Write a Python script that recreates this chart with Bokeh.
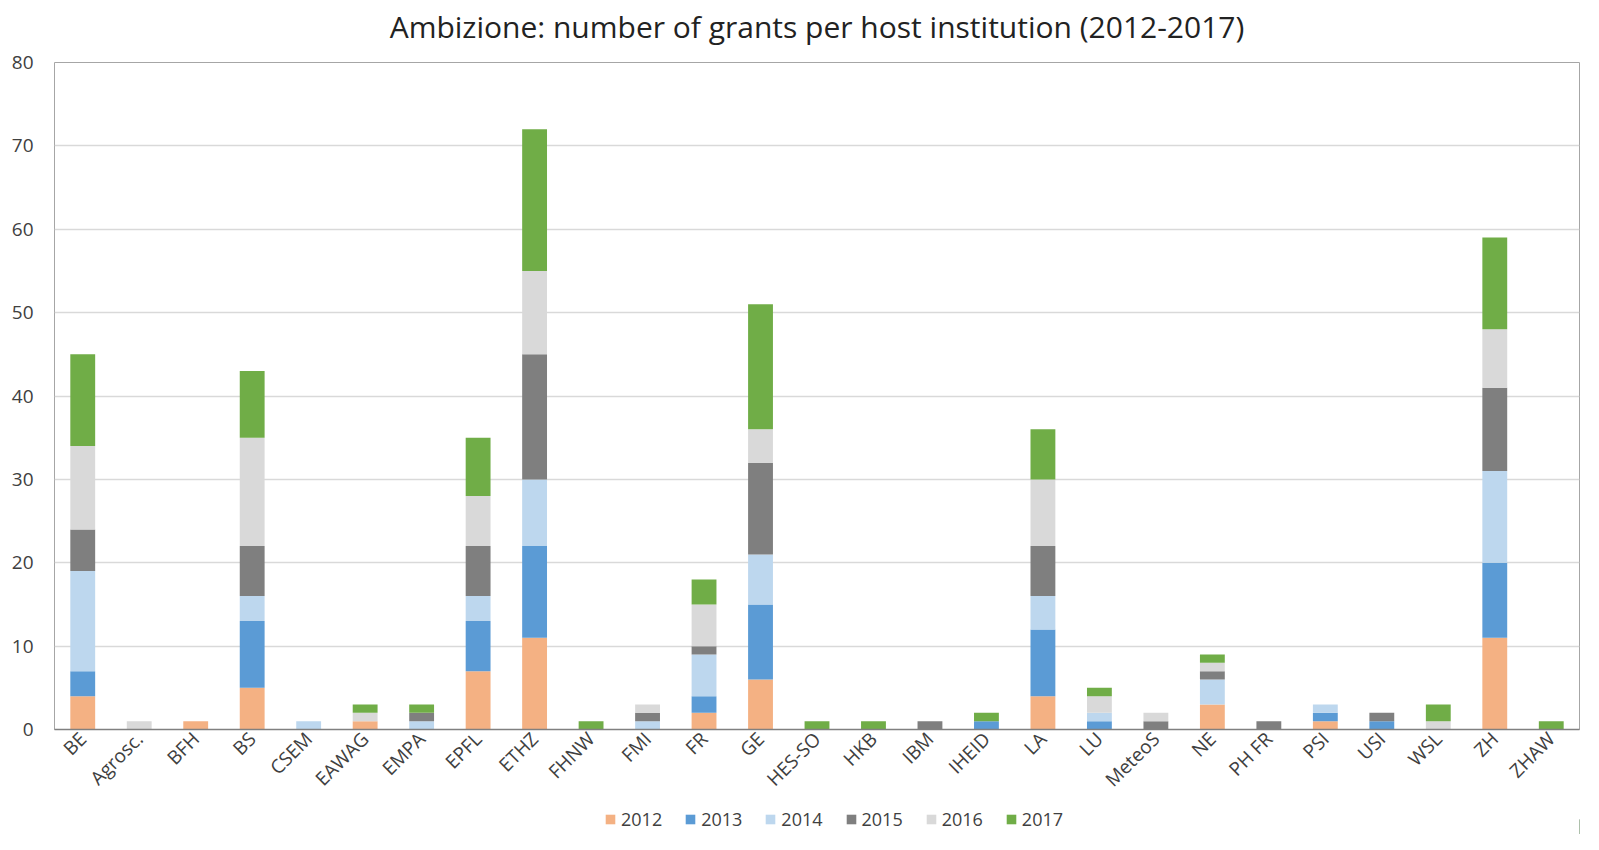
import math
from bokeh.plotting import figure
from bokeh.layouts import column
from bokeh.models import ColumnDataSource, Range1d, FixedTicker, Legend, LegendItem, Title
from bokeh.embed import file_html
from bokeh.resources import INLINE

institutions = ["BE", "Agrosc.", "BFH", "BS", "CSEM", "EAWAG", "EMPA", "EPFL", "ETHZ", "FHNW",
                "FMI", "FR", "GE", "HES-SO", "HKB", "IBM", "IHEID", "LA", "LU", "MeteoS",
                "NE", "PH FR", "PSI", "USI", "WSL", "ZH", "ZHAW"]
years = ["2012", "2013", "2014", "2015", "2016", "2017"]
y2012 = [4, 0, 1, 5, 0, 1, 0, 7, 11, 0, 0, 2, 6, 0, 0, 0, 0, 4, 0, 0, 3, 0, 1, 0, 0, 11, 0]
y2013 = [3, 0, 0, 8, 0, 0, 0, 6, 11, 0, 0, 2, 9, 0, 0, 0, 1, 8, 1, 0, 0, 0, 1, 1, 0, 9, 0]
y2014 = [12, 0, 0, 3, 1, 0, 1, 3, 8, 0, 1, 5, 6, 0, 0, 0, 0, 4, 1, 0, 3, 0, 1, 0, 0, 11, 0]
y2015 = [5, 0, 0, 6, 0, 0, 1, 6, 15, 0, 1, 1, 11, 0, 0, 1, 0, 6, 0, 1, 1, 1, 0, 1, 0, 10, 0]
y2016 = [10, 1, 0, 13, 0, 1, 0, 6, 10, 0, 1, 5, 4, 0, 0, 0, 0, 8, 2, 1, 1, 0, 0, 0, 1, 7, 0]
y2017 = [11, 0, 0, 8, 0, 1, 1, 7, 17, 1, 0, 3, 15, 1, 1, 0, 1, 6, 1, 0, 1, 0, 0, 0, 2, 11, 1]
colors = ["#F4B183", "#5B9BD5", "#BDD7EE", "#7F7F7F", "#D9D9D9", "#70AD47"]
title_text = "Ambizione: number of grants per host institution (2012-2017)"

source = ColumnDataSource(data=dict(inst=institutions, **{"2012": y2012, "2013": y2013, "2014": y2014,
                                                          "2015": y2015, "2016": y2016, "2017": y2017}))

FONT = "Open Sans"
W = 1583
p = figure(x_range=institutions, y_range=Range1d(0, 80), width=W, height=804,
           output_backend="svg", toolbar_location=None, title=None,
           min_border_left=54, min_border_right=4, min_border_top=62, min_border_bottom=66)
spacer = Title(text=" ", text_font_size="12px", standoff=0)
p.add_layout(spacer, "above")
ttl = Title(text=title_text, align="center", text_font=FONT, text_font_size="30px",
            text_font_style="normal", text_color="#222222", standoff=0)
p.add_layout(ttl, "above")

renderers = p.vbar_stack(years, x="inst", width=0.44, color=colors, line_color=None, source=source)

p.yaxis.ticker = FixedTicker(ticks=list(range(0, 81, 10)))
p.yaxis.major_label_text_font = FONT
p.yaxis.major_label_text_font_size = "19px"
p.yaxis.major_label_text_color = "#404040"
p.yaxis.major_label_standoff = 15
p.yaxis.axis_line_color = None
p.yaxis.major_tick_line_color = None
p.yaxis.minor_tick_line_color = None

p.xaxis.major_label_orientation = math.pi / 4
p.xaxis.major_label_text_font = FONT
p.xaxis.major_label_text_font_size = "19px"
p.xaxis.major_label_text_color = "#404040"
p.xaxis.major_label_standoff = 6
p.xaxis.axis_line_color = "#808080"
p.xaxis.axis_line_width = 1.5
p.xaxis.major_tick_line_color = None
p.xaxis.minor_tick_line_color = None
p.xaxis.major_tick_out = 0
p.xaxis.major_tick_in = 0

p.xgrid.grid_line_color = None
p.ygrid.grid_line_color = "#D9D9D9"
p.ygrid.grid_line_width = 1.5
p.outline_line_color = "#A6A6A6"
p.x_range.range_padding = 0.0

# legend strip below the chart
lf = figure(width=W, height=30, output_backend="svg", toolbar_location=None,
            x_range=Range1d(0, 1), y_range=Range1d(0, 1), min_border=0)
lf.axis.visible = False
lf.grid.visible = False
lf.outline_line_color = None
hidden = ColumnDataSource(data=dict(x=[5.0], top=[0.5]))
items = []
for yr, c in zip(years, colors):
    r = lf.vbar(x="x", top="top", width=0.1, color=c, line_color=None, source=hidden)
    items.append(LegendItem(label=yr, renderers=[r]))
legend = Legend(items=items, orientation="horizontal", location=(550, 3))
legend.label_text_font = FONT
legend.label_text_font_size = "18px"
legend.label_text_color = "#404040"
legend.label_height = 18
legend.glyph_width = 12
legend.glyph_height = 12
legend.spacing = 22
legend.label_standoff = 5
legend.padding = 2
legend.margin = 0
legend.border_line_color = None
legend.background_fill_alpha = 0
lf.add_layout(legend, "center")

layout = column(p, lf, spacing=0)
open("out.html", "w").write(file_html(layout, INLINE))
